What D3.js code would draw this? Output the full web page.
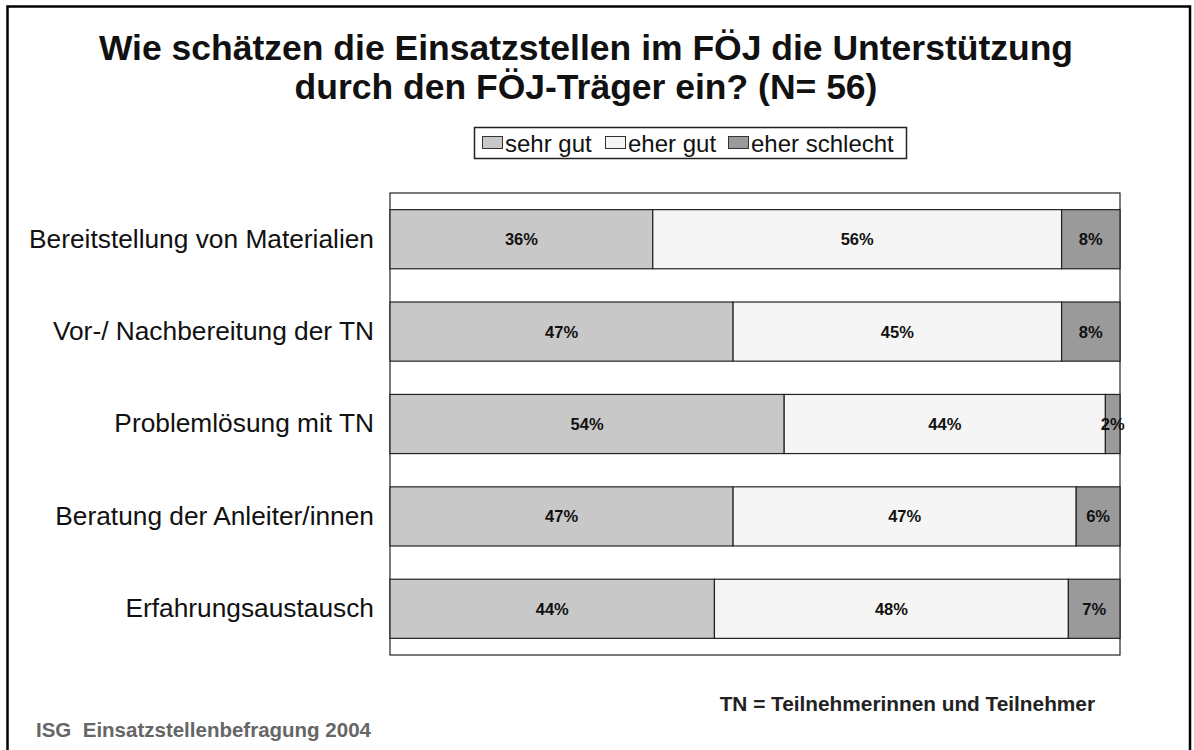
<!DOCTYPE html>
<html>
<head>
<meta charset="utf-8">
<script src="https://cdn.jsdelivr.net/npm/d3@7"></script>
<style>
  body { margin: 0; background: #fff; }
  svg { display: block; font-family: Arial, "Liberation Sans", sans-serif; }
</style>
</head>
<body>
<div id="chart"></div>
<script>
const categories = [
  "Bereitstellung von Materialien",
  "Vor-/ Nachbereitung der TN",
  "Problemlösung mit TN",
  "Beratung der Anleiter/innen",
  "Erfahrungsaustausch"
];
const seriesNames = ["sehr gut", "eher gut", "eher schlecht"];
const sehrGut = [36, 47, 54, 47, 44];
const eherGut = [56, 45, 44, 47, 48];
const eherSchlecht = [8, 8, 2, 6, 7];
const colors = ["#c8c8c8", "#f5f5f5", "#9a9a9a"];

const width = 1194, height = 750;
const margin = { top: 193, left: 390, right: 74, bottom: 95 };

const svg = d3.select("#chart").append("svg")
  .attr("width", width)
  .attr("height", height);

// page frame
svg.append("path")
  .attr("d", `M7.5,${height + 5}V6.5H1190V${height + 5}`)
  .attr("fill", "none")
  .attr("stroke", "#000")
  .attr("stroke-width", 2.5);

// title
const title = svg.append("text")
  .attr("text-anchor", "middle")
  .attr("font-weight", "bold")
  .attr("font-size", 35.5)
  .attr("fill", "#111");
title.append("tspan").attr("x", 586).attr("y", 60).text("Wie schätzen die Einsatzstellen im FÖJ die Unterstützung");
title.append("tspan").attr("x", 586).attr("y", 99).text("durch den FÖJ-Träger ein? (N= 56)");

// rows: each normalised to its own total
const rows = categories.map((c, i) => {
  const vals = [sehrGut[i], eherGut[i], eherSchlecht[i]];
  const total = d3.sum(vals);
  let acc = 0;
  return vals.map((v, k) => {
    const seg = { cat: c, key: k, value: v, x0: acc / total, x1: (acc + v) / total };
    acc += v;
    return seg;
  });
});

const x = d3.scaleLinear().domain([0, 1]).range([margin.left, width - margin.right]);
const y = d3.scaleBand().domain(categories)
  .range([margin.top, height - margin.bottom])
  .paddingInner(0.36).paddingOuter(0.18);

// plot frame
svg.append("rect")
  .attr("x", x(0)).attr("y", margin.top)
  .attr("width", x(1) - x(0))
  .attr("height", height - margin.bottom - margin.top)
  .attr("fill", "none")
  .attr("stroke", "#222")
  .attr("stroke-width", 1.2);

const rowG = svg.selectAll(".row")
  .data(rows)
  .enter().append("g")
  .attr("class", "row");

rowG.selectAll("rect")
  .data(d => d)
  .enter().append("rect")
  .attr("x", d => x(d.x0))
  .attr("y", d => y(d.cat))
  .attr("width", d => x(d.x1) - x(d.x0))
  .attr("height", y.bandwidth())
  .attr("fill", d => colors[d.key])
  .attr("stroke", "#222")
  .attr("stroke-width", 1.2);

rowG.selectAll("text")
  .data(d => d)
  .enter().append("text")
  .attr("x", d => (x(d.x0) + x(d.x1)) / 2)
  .attr("y", d => y(d.cat) + y.bandwidth() / 2)
  .attr("dy", "0.36em")
  .attr("text-anchor", "middle")
  .attr("font-weight", "bold")
  .attr("font-size", 16.5)
  .attr("fill", "#111")
  .text(d => d.value + "%");

// category axis
const yAxis = svg.append("g")
  .attr("transform", `translate(${x(0)},0)`)
  .call(d3.axisLeft(y).tickSize(0).tickPadding(16));
yAxis.select(".domain").remove();
yAxis.selectAll("text")
  .attr("font-size", 26.3)
  .attr("font-family", "Arial, 'Liberation Sans', sans-serif")
  .attr("fill", "#111");

// legend
const legend = svg.append("g");
legend.append("rect")
  .attr("x", 474.5).attr("y", 127.5)
  .attr("width", 432).attr("height", 31)
  .attr("fill", "#fff")
  .attr("stroke", "#222")
  .attr("stroke-width", 1.5);
const legX = [482, 605, 728];
const item = legend.selectAll(".item")
  .data(seriesNames)
  .enter().append("g")
  .attr("transform", (d, i) => `translate(${legX[i]},143)`);
item.append("rect")
  .attr("x", 0.5).attr("y", -6.5)
  .attr("width", 20).attr("height", 12)
  .attr("fill", (d, i) => colors[i])
  .attr("stroke", "#333");
item.append("text")
  .attr("x", 23).attr("dy", "0.36em")
  .attr("font-size", 24)
  .attr("fill", "#111")
  .text(d => d);

// notes
svg.append("text")
  .attr("x", 1095).attr("y", 711)
  .attr("text-anchor", "end")
  .attr("font-weight", "bold")
  .attr("font-size", 20.8)
  .attr("fill", "#222")
  .text("TN = Teilnehmerinnen und Teilnehmer");
svg.append("text")
  .attr("x", 36).attr("y", 737)
  .attr("font-weight", "bold")
  .attr("font-size", 20.5)
  .attr("fill", "#666")
  .text("ISG\u00a0 Einsatzstellenbefragung 2004");
</script>
</body>
</html>
